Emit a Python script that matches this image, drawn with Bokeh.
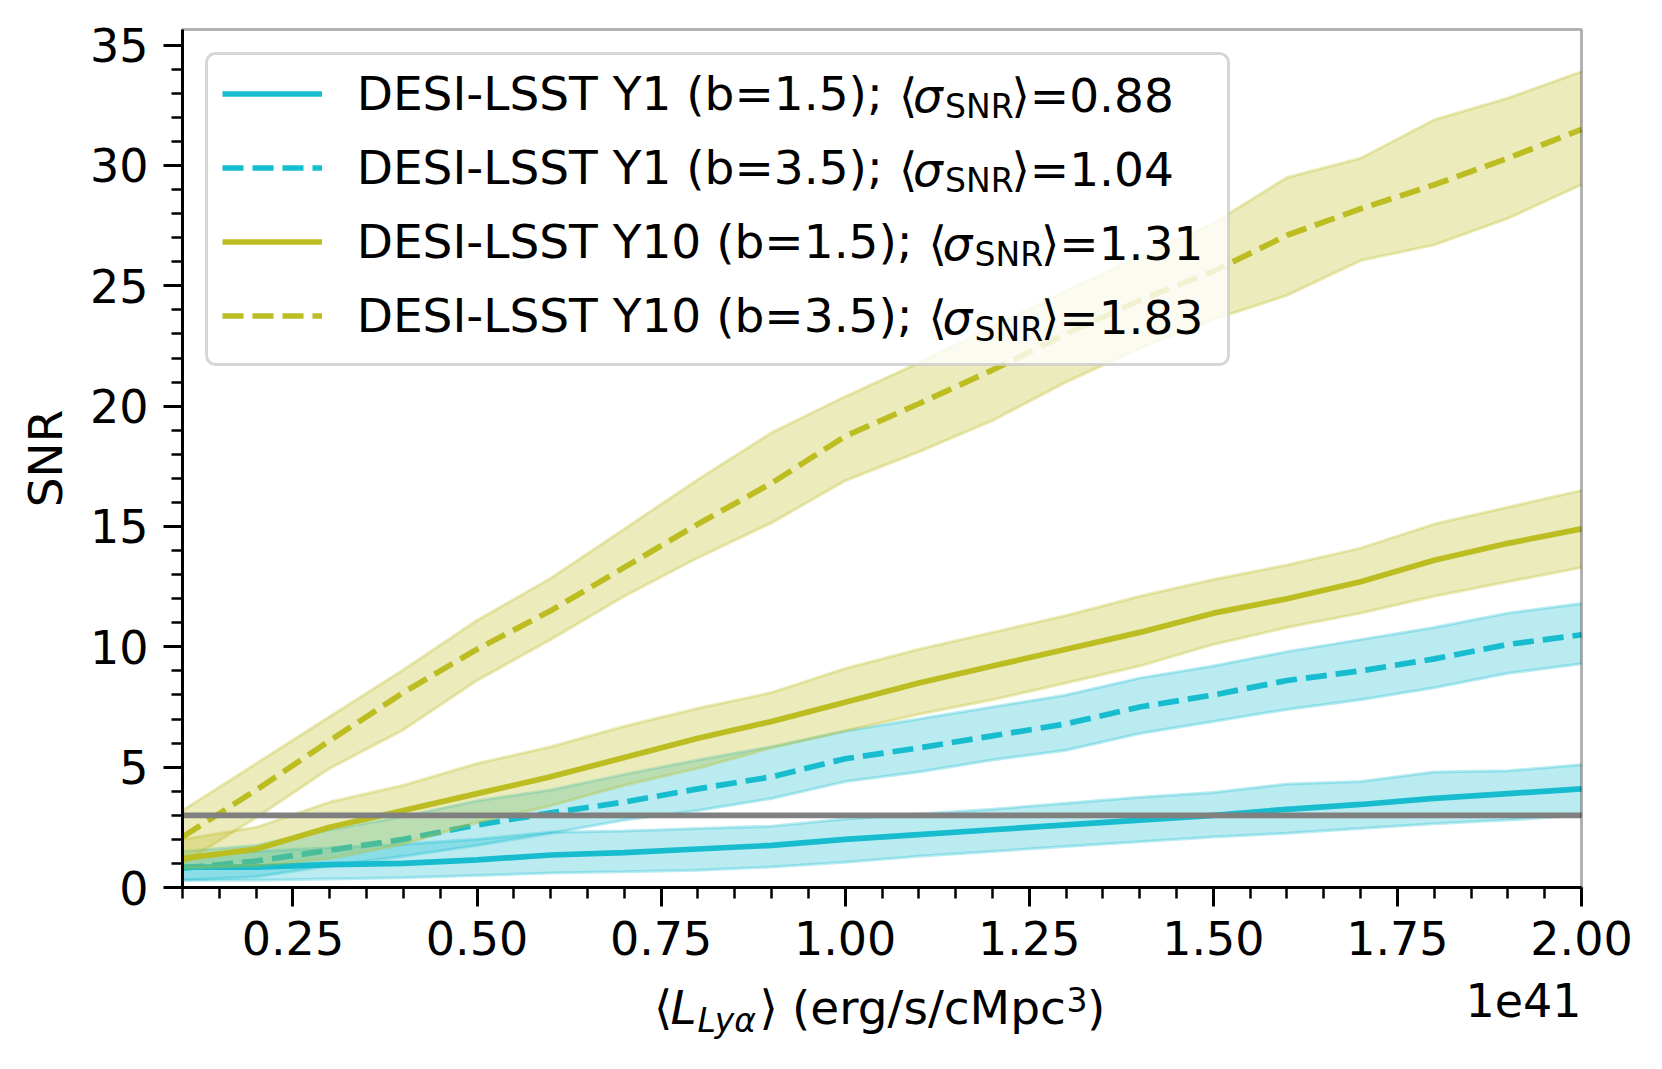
from bokeh.plotting import figure
from bokeh.models import (Range1d, FixedTicker, NumeralTickFormatter, Label,
                          BoxAnnotation, Legend, LegendItem)
from bokeh.embed import file_html
from bokeh.resources import INLINE

# ---------------- data (x in units of 1e41 erg/s/cMpc^3) ----------------
x = [0.1, 0.2, 0.3, 0.4, 0.5, 0.6, 0.7, 0.8, 0.9, 1.0,
     1.1, 1.2, 1.3, 1.4, 1.5, 1.6, 1.7, 1.8, 1.9, 2.0]

y1_b15 = [0.85, 0.85, 0.95, 1.0, 1.15, 1.35, 1.45, 1.6, 1.75, 2.0,
          2.2, 2.4, 2.6, 2.8, 3.0, 3.25, 3.45, 3.7, 3.9, 4.1]
y1_b15_hi = [1.3, 1.5, 1.65, 1.8, 2.0, 2.3, 2.35, 2.45, 2.55, 2.85,
             3.05, 3.25, 3.5, 3.75, 3.95, 4.3, 4.4, 4.8, 4.85, 5.1]
y1_b15_lo = [0.3, 0.3, 0.35, 0.4, 0.5, 0.6, 0.65, 0.72, 0.85, 1.05,
             1.3, 1.5, 1.7, 1.9, 2.1, 2.25, 2.45, 2.65, 2.8, 3.0]

y1_b35 = [0.8, 1.1, 1.55, 2.0, 2.6, 3.1, 3.55, 4.1, 4.6, 5.35,
          5.8, 6.3, 6.8, 7.5, 8.0, 8.6, 9.0, 9.5, 10.1, 10.5]
y1_b35_hi = [1.5, 1.75, 2.4, 2.95, 3.6, 4.05, 4.7, 5.3, 5.85, 6.5,
             7.0, 7.5, 8.0, 8.7, 9.2, 9.8, 10.3, 10.8, 11.4, 11.8]
y1_b35_lo = [0.3, 0.45, 0.9, 1.3, 1.75, 2.25, 2.8, 3.2, 3.7, 4.4,
             4.8, 5.3, 5.7, 6.4, 6.9, 7.4, 7.8, 8.3, 8.9, 9.3]

y10_b15 = [1.2, 1.6, 2.5, 3.2, 3.9, 4.6, 5.4, 6.2, 6.9, 7.7,
           8.5, 9.2, 9.9, 10.6, 11.4, 12.0, 12.7, 13.6, 14.3, 14.9]
y10_b15_hi = [2.0, 2.5, 3.55, 4.25, 5.15, 5.85, 6.7, 7.45, 8.1, 9.1,
              9.9, 10.6, 11.3, 12.1, 12.8, 13.4, 14.1, 15.1, 15.8, 16.5]
y10_b15_lo = [0.8, 0.9, 1.2, 1.8, 2.7, 3.4, 4.25, 4.95, 5.8, 6.5,
              7.2, 7.8, 8.5, 9.2, 10.1, 10.8, 11.4, 12.1, 12.7, 13.3]

y10_b35 = [2.1, 4.05, 6.1, 8.1, 9.9, 11.5, 13.3, 15.1, 16.8, 18.75,
           20.1, 21.5, 23.0, 24.4, 25.6, 27.1, 28.2, 29.2, 30.3, 31.5]
y10_b35_hi = [3.2, 5.15, 7.1, 9.05, 11.1, 12.85, 14.9, 16.95, 18.9, 20.4,
              21.8, 23.3, 24.8, 26.2, 27.6, 29.5, 30.3, 31.9, 32.8, 33.9]
y10_b35_lo = [1.0, 2.9, 4.95, 6.55, 8.6, 10.3, 12.1, 13.7, 15.15, 16.9,
              18.1, 19.4, 21.0, 22.4, 23.6, 24.6, 26.05, 26.7, 27.8, 29.2]

snr_threshold = 3.0

legend_prefix = ["DESI-LSST Y1 (b=1.5);", "DESI-LSST Y1 (b=3.5);",
                 "DESI-LSST Y10 (b=1.5);", "DESI-LSST Y10 (b=3.5);"]
sigma_values = ["0.88", "1.04", "1.31", "1.83"]

x_lim = (0.1, 2.0)
y_lim = (0.0, 35.65)
x_ticks = [0.25, 0.5, 0.75, 1.0, 1.25, 1.5, 1.75, 2.0]
x_minor = [round(0.1 + 0.05 * i, 2) for i in range(39)]
y_ticks = [0, 5, 10, 15, 20, 25, 30, 35]
y_minor = list(range(0, 36))

# ---------------- styling / geometry ----------------
FONT = "DejaVu Sans"
CYAN = "#17becf"
OLIVE = "#bcbd22"
LW = 5.7
DASH = "21 9"

W, H = 1662, 1069
# pixel box of the axes (page coordinates)
FL, FT, FR, FB = 182, 29, 1581, 887
sx_per = (FR - FL) / (x_lim[1] - x_lim[0])
sy_per = (FB - FT) / (y_lim[1] - y_lim[0])
x_range = Range1d(x_lim[0] - FL / sx_per, x_lim[1] + (W - FR) / sx_per)
y_range = Range1d(y_lim[0] - (H - FB) / sy_per, y_lim[1] + FT / sy_per)

p = figure(width=W, height=H, output_backend="svg", toolbar_location=None,
           x_range=x_range, y_range=y_range, min_border=0)
p.background_fill_color = "white"
p.border_fill_color = "white"
p.outline_line_color = None
p.xgrid.visible = False
p.ygrid.visible = False

series = [
    (y1_b15, y1_b15_lo, y1_b15_hi, CYAN, None),
    (y1_b35, y1_b35_lo, y1_b35_hi, CYAN, DASH),
    (y10_b15, y10_b15_lo, y10_b15_hi, OLIVE, None),
    (y10_b35, y10_b35_lo, y10_b35_hi, OLIVE, DASH),
]
line_renderers = []
for ym, ylo, yhi, col, dash in series:
    kw = dict(line_color=col, line_width=LW)
    if dash:
        kw["line_dash"] = dash
    r = p.line(x, ym, **kw)
    line_renderers.append(r)
    p.varea(x=x, y1=ylo, y2=yhi, fill_color=col, fill_alpha=0.3)
    p.line(x, ylo, line_color=col, line_alpha=0.3, line_width=3)
    p.line(x, yhi, line_color=col, line_alpha=0.3, line_width=3)

# SNR = 3 threshold
p.segment(x0=[x_lim[0]], x1=[x_lim[1]], y0=[snr_threshold], y1=[snr_threshold],
          line_color="#808080", line_width=LW)

# axes frame (box)
p.add_layout(BoxAnnotation(left=x_lim[0], right=x_lim[1], bottom=y_lim[0], top=y_lim[1],
                           fill_alpha=0, line_color="black", line_width=3))

# axes placed at the data box edges
xa = p.xaxis[0]
ya = p.yaxis[0]
xa.fixed_location = y_lim[0]
xa.bounds = x_lim
ya.fixed_location = x_lim[0]
ya.bounds = y_lim
for ax in (xa, ya):
    ax.axis_line_width = 3
    ax.major_tick_line_width = 3
    ax.minor_tick_line_width = 2.5
    ax.major_tick_out = 19
    ax.major_tick_in = 0
    ax.minor_tick_out = 11
    ax.minor_tick_in = 0
    ax.major_label_text_font = FONT
    ax.major_label_text_font_size = "46px"
    ax.major_label_text_color = "black"

xa.ticker = FixedTicker(ticks=x_ticks, minor_ticks=x_minor)
xa.formatter = NumeralTickFormatter(format="0.00")
xa.major_label_standoff = 14
ya.ticker = FixedTicker(ticks=y_ticks, minor_ticks=y_minor)
ya.major_label_standoff = 15
ya.axis_label = "SNR"
ya.axis_label_text_font = FONT
ya.axis_label_text_font_size = "47px"
ya.axis_label_text_font_style = "normal"
ya.axis_label_text_color = "black"
ya.axis_label_standoff = 14


def fx(ax):
    return ax


def fy(ay):
    return H - ay


# legend frame
p.add_layout(BoxAnnotation(left=fx(206), right=fx(1228), top=fy(53), bottom=fy(364),
                           left_units="screen", right_units="screen",
                           top_units="screen", bottom_units="screen",
                           fill_color="white", fill_alpha=0.8,
                           line_color="#cccccc", line_alpha=0.8, line_width=3,
                           border_radius=9))

ROW0 = 92.5
PITCH = 74.2
GH = 55
PAD = 10
SPACING = PITCH - GH
leg_h = 2 * PAD + 4 * GH + 3 * SPACING
leg_top = ROW0 - GH / 2 - PAD
legend = Legend(items=[LegendItem(label=lab, renderers=[r])
                       for lab, r in zip(legend_prefix, line_renderers)],
                location=(fx(221.7 - PAD), fy(leg_top + leg_h)),
                orientation="vertical", glyph_width=100, glyph_height=GH,
                label_height=GH, label_standoff=35, padding=PAD, spacing=round(SPACING),
                margin=0, label_text_font=FONT, label_text_font_size="47px",
                label_text_color="black", background_fill_alpha=0,
                border_line_alpha=0)
p.add_layout(legend)


def txt(text, ax, baseline_y, size, style="normal", align="left"):
    # text placed by its box middle; DejaVu middle sits 0.346 em above baseline
    cy = baseline_y - 0.346 * size
    p.add_layout(Label(x=fx(ax), y=fy(cy), x_units="screen", y_units="screen",
                       text=text, text_font=FONT, text_font_size=f"{size}px",
                       text_font_style=style, text_color="black",
                       text_align=align, text_baseline="middle"))


for i, val in enumerate(sigma_values):
    c = ROW0 + i * PITCH
    sh = 0 if i < 2 else 29.5
    base = c + 18.3
    txt("\u27e8", 898.5 + sh, base, 47)
    txt("\u03c3", 912.5 + sh, base, 47, style="italic")
    txt("SNR", 944.5 + sh, base + 6.7, 33)
    txt("\u27e9=" + val, 1011 + sh, base, 47)

# x axis label pieces
txt("\u27e8", 653.5, 1023, 47)
txt("L", 670, 1023, 47, style="italic")
txt("Ly\u03b1", 697, 1031.7, 33, style="italic")
txt("\u27e9", 759, 1023, 47)
txt("(erg/s/cMpc", 791.5, 1023, 47)
txt("3", 1066, 1010.5, 33)
txt(")", 1086.5, 1023, 47)

# offset text
txt("1e41", 1581, 1015, 46, align="right")

open("out.html", "w").write(file_html(p, INLINE))
